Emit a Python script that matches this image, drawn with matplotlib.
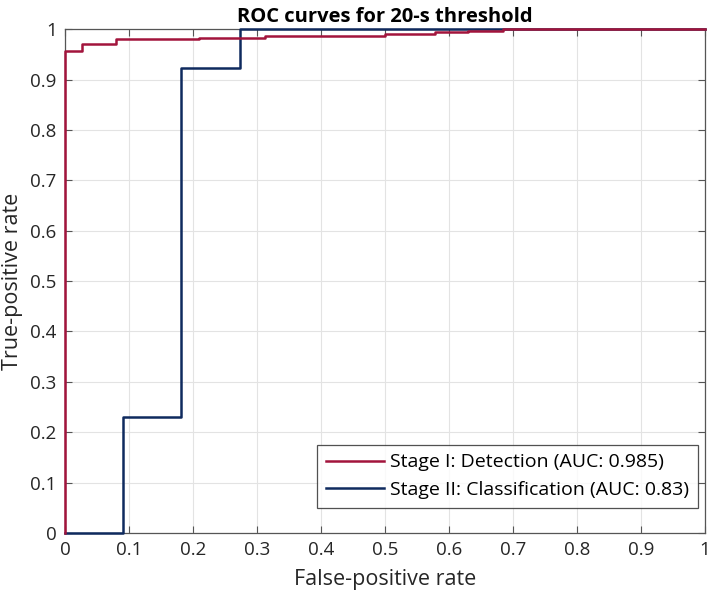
import matplotlib.pyplot as plt
import numpy as np

plt.rcParams['font.family'] = ['Open Sans', 'DejaVu Sans']

# Stage I (detection) ROC points
fpr_det = [0, 0, 0.026, 0.026, 0.079, 0.079, 0.21, 0.21, 0.3125, 0.3125, 0.5, 0.5,
           0.578, 0.578, 0.63, 0.63, 0.684, 0.684, 1.0]
tpr_det = [0, 0.956, 0.956, 0.970, 0.970, 0.981, 0.981, 0.983, 0.983, 0.987, 0.987, 0.990,
           0.990, 0.9935, 0.9935, 0.996, 0.996, 1.0, 1.0]

# Stage II (classification) ROC points
fpr_cls = [0, 0.0909, 0.0909, 0.1818, 0.1818, 0.2727, 0.2727, 1.0]
tpr_cls = [0, 0, 0.2308, 0.2308, 0.9231, 0.9231, 1.0, 1.0]

red = '#A2143C'
blue = '#0F2A5E'

fig = plt.figure(figsize=(7.09, 5.95), dpi=100)
ax = fig.add_axes([0.0917, 0.1042, 0.9027, 0.8468])

ax.plot(fpr_cls, tpr_cls, color=blue, lw=1.8, zorder=3, clip_on=False,
        label='Stage II: Classification (AUC: 0.83)')
ax.plot(fpr_det, tpr_det, color=red, lw=1.8, zorder=4, clip_on=False,
        label='Stage I: Detection (AUC: 0.985)')

ax.set_xlim(0, 1)
ax.set_ylim(0, 1)
ticks = np.round(np.arange(0, 1.01, 0.1), 1)
labels = ['0', '0.1', '0.2', '0.3', '0.4', '0.5', '0.6', '0.7', '0.8', '0.9', '1']
ax.set_xticks(ticks)
ax.set_xticklabels(labels)
ax.set_yticks(ticks)
ax.set_yticklabels(labels)
ax.tick_params(direction='in', top=True, right=True, length=5, width=0.8,
               color='#555555', labelsize=13.5, labelcolor='#262626', pad=6)
ax.grid(True, color='#e3e3e3', lw=0.8)
ax.set_axisbelow(True)
for s in ax.spines.values():
    s.set_color('#555555')
    s.set_linewidth(0.9)

ax.set_xlabel('False-positive rate', fontsize=15.5, color='#262626', labelpad=7)
ax.set_ylabel('True-positive rate', fontsize=15.5, color='#262626', labelpad=5)
ax.set_title('ROC curves for 20-s threshold', fontsize=14.5, fontweight='bold', pad=5)

h, l = ax.get_legend_handles_labels()
leg = ax.legend(h[::-1], l[::-1], loc='lower right', bbox_to_anchor=(0.989, 0.05),
                fontsize=14, frameon=True, fancybox=False, handlelength=3.0,
                handletextpad=0.3, borderpad=0.45, labelspacing=0.5, borderaxespad=0)
leg.get_frame().set_edgecolor('#262626')
leg.get_frame().set_linewidth(0.9)

fig.savefig('out.png', dpi=100)
